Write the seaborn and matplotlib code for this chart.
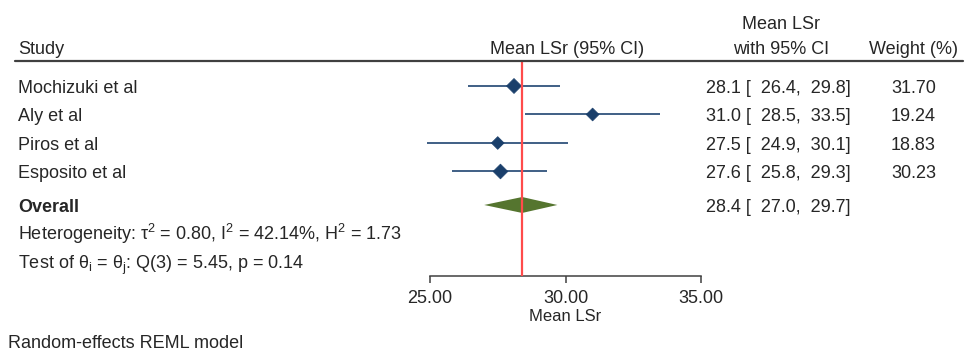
import numpy as np
import pandas as pd
import seaborn as sns
import matplotlib.pyplot as plt
from matplotlib.lines import Line2D
from matplotlib.transforms import blended_transform_factory, offset_copy

# data
studies = ["Mochizuki et al", "Aly et al", "Piros et al", "Esposito et al"]
mean_lsr = [28.1, 31.0, 27.5, 27.6]
ci_low = [26.4, 28.5, 24.9, 25.8]
ci_high = [29.8, 33.5, 30.1, 29.3]
weights = [31.70, 19.24, 18.83, 30.23]

overall_mean = 28.4
overall_low = 27.0
overall_high = 29.7

x_ticks = [25, 30, 35]
het_text = (r"Heterogeneity: τ$\mathregular{^2}$ = 0.80, I$\mathregular{^2}$ = 42.14%, "
            r"H$\mathregular{^2}$ = 1.73")
test_text = r"Test of θ$\mathregular{_i}$ = θ$\mathregular{_j}$: Q(3) = 5.45, p = 0.14"

df = pd.DataFrame({"study": studies, "mean": mean_lsr, "low": ci_low,
                   "high": ci_high, "weight": weights})
df["row"] = np.arange(len(df))
overall_row = len(df) + 0.175
het_row = overall_row + 1.0
test_row = overall_row + 2.0

sns.set_theme(style="white")
plt.rcParams['font.family'] = ['Liberation Sans', 'DejaVu Sans']
plt.rcParams['mathtext.fontset'] = 'custom'
plt.rcParams['mathtext.rm'] = 'Liberation Sans'
plt.rcParams['mathtext.it'] = 'Liberation Sans:italic'

navy = "#1a3f6b"
line_navy = "#3f5f85"
green = "#55752f"
red = "#ff4b4b"
grey = "#404040"
fs = 13

W, H = 968, 352
fig = plt.figure(figsize=(W / 100, H / 100), dpi=100)
ax = fig.add_axes([430 / W, 1 - 276 / H, 271 / W, 215 / H])

# confidence intervals and study estimates
ax.hlines(df["row"], df["low"], df["high"], color=line_navy, lw=1.4, clip_on=False, zorder=2)
sns.scatterplot(data=df, x="mean", y="row", size="weight", sizes=(42, 58), marker="D",
                color=navy, edgecolor=navy, linewidth=0.5, legend=False, ax=ax,
                clip_on=False, zorder=3)

# overall diamond
h = 0.28
ax.fill([overall_low, overall_mean, overall_high, overall_mean],
        [overall_row, overall_row - h, overall_row, overall_row + h],
        color=green, lw=0, zorder=2)
ax.axvline(overall_mean, color=red, lw=1.6, zorder=4)

ax.set_xlim(x_ticks[0], x_ticks[-1])
ax.set_ylim(-0.877 + 215 / 28.5, -0.877)
ax.set_xticks(x_ticks)
ax.set_xticklabels([f"{t:.2f}" for t in x_ticks], fontsize=fs)
ax.set_yticks([])
ax.set_ylabel("")
ax.set_xlabel("Mean LSr", fontsize=12, labelpad=1.5)
ax.tick_params(axis="x", length=5, width=1.1, color=grey, pad=5, bottom=True)
sns.despine(ax=ax, left=True, top=True, right=True)
ax.spines["bottom"].set_color(grey)
ax.spines["bottom"].set_linewidth(1.1)
ax.set_facecolor("none")

# text columns: baseline placed ~7 px below each row centre
trans = offset_copy(blended_transform_factory(fig.transFigure, ax.transData),
                    fig=fig, y=-7, units="dots")
kw = dict(transform=trans, va="baseline", fontsize=fs)
for _, r in df.iterrows():
    ax.text(18 / W, r["row"], r["study"], ha="left", **kw)
    ax.text(706 / W, r["row"], f"{r['mean']:.1f} [  {r['low']:.1f},  {r['high']:.1f}]",
            ha="left", **kw)
    ax.text(936 / W, r["row"], f"{r['weight']:.2f}", ha="right", **kw)

ax.text(18 / W, overall_row, "Overall", ha="left", fontweight="bold", **kw)
ax.text(706 / W, overall_row, f"{overall_mean:.1f} [  {overall_low:.1f},  {overall_high:.1f}]",
        ha="left", **kw)
ax.text(18 / W, het_row, het_text, ha="left", **kw)
ax.text(18 / W, test_row, test_text, ha="left", **kw)

# header
fig.text(18 / W, 1 - 54 / H, "Study", va="baseline", ha="left", fontsize=fs)
fig.text(644 / W, 1 - 54 / H, "Mean LSr (95% CI)", va="baseline", ha="right", fontsize=fs)
fig.text(781 / W, 1 - 29 / H, "Mean LSr", va="baseline", ha="center", fontsize=fs)
fig.text(781 / W, 1 - 54 / H, "with 95% CI", va="baseline", ha="center", fontsize=fs)
fig.text(958 / W, 1 - 54 / H, "Weight (%)", va="baseline", ha="right", fontsize=fs)
fig.add_artist(Line2D([15 / W, 963 / W], [1 - 61 / H, 1 - 61 / H], color=grey, lw=1.6))

fig.text(8 / W, 1 - 348 / H, "Random-effects REML model", va="baseline", ha="left", fontsize=fs)

fig.savefig("out.png", dpi=100, facecolor="white")
